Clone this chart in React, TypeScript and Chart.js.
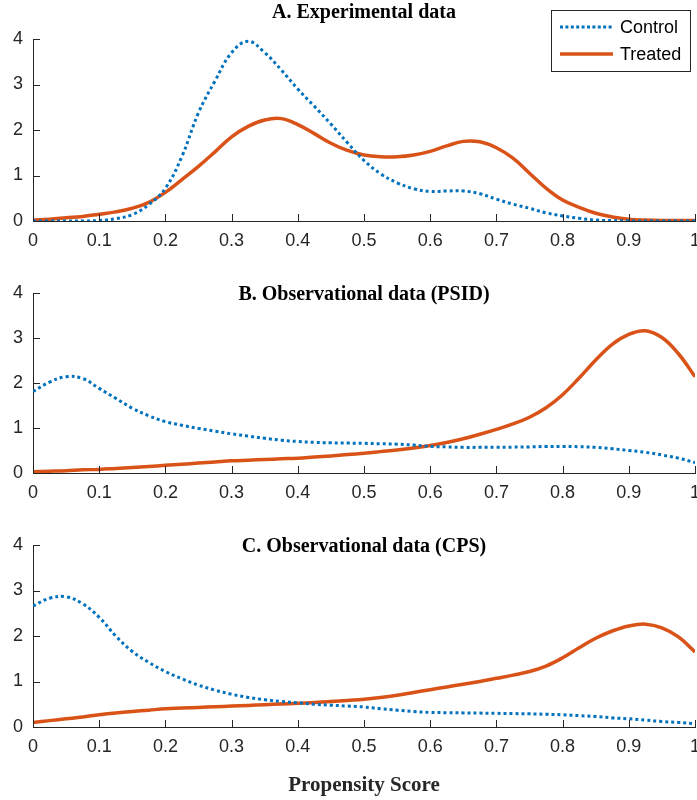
import React, { useEffect, useRef } from "react";
import { Chart, registerables } from "chart.js";

Chart.register(...registerables);

// ---------- data ----------
const xTicks = [0, 0.1, 0.2, 0.3, 0.4, 0.5, 0.6, 0.7, 0.8, 0.9, 1];
const xTickLabels = ["0", "0.1", "0.2", "0.3", "0.4", "0.5", "0.6", "0.7", "0.8", "0.9", "1"];
const yTicks = [0, 1, 2, 3, 4];
const yTickLabels = ["0", "1", "2", "3", "4"];
const seriesNames = ["Control", "Treated"];
const panelTitles = [
  "A. Experimental data",
  "B. Observational data (PSID)",
  "C. Observational data (CPS)",
];
const axisTitle = "Propensity Score";

// shared propensity-score grid (all panels)
const scoreGrid = [0, 0.025, 0.05, 0.075, 0.1, 0.125, 0.15, 0.175, 0.2, 0.225, 0.25, 0.275, 0.3, 0.325, 0.35, 0.375, 0.4, 0.425, 0.45, 0.475, 0.5, 0.525, 0.55, 0.575, 0.6, 0.625, 0.65, 0.675, 0.7, 0.725, 0.75, 0.775, 0.8, 0.825, 0.85, 0.875, 0.9, 0.925, 0.95, 0.975, 1];

const controlA = [0, 0, 0, 0, 0.01, 0.05, 0.14, 0.36, 0.72, 1.42, 2.38, 3.08, 3.7, 3.95, 3.7, 3.32, 2.9, 2.52, 2.13, 1.72, 1.33, 1.04, 0.84, 0.71, 0.65, 0.66, 0.66, 0.6, 0.48, 0.37, 0.28, 0.18, 0.11, 0.06, 0.02, 0.01, 0, 0, 0, 0, 0];
const treatedA = [0.02, 0.04, 0.07, 0.1, 0.15, 0.2, 0.28, 0.41, 0.63, 0.91, 1.2, 1.52, 1.85, 2.08, 2.22, 2.25, 2.12, 1.92, 1.71, 1.55, 1.45, 1.41, 1.41, 1.45, 1.53, 1.65, 1.75, 1.74, 1.61, 1.38, 1.05, 0.72, 0.46, 0.3, 0.17, 0.09, 0.04, 0.02, 0.01, 0.01, 0.01];

const controlB = [1.81, 2.02, 2.14, 2.1, 1.88, 1.66, 1.44, 1.27, 1.14, 1.06, 0.99, 0.93, 0.87, 0.82, 0.77, 0.73, 0.7, 0.68, 0.67, 0.665, 0.66, 0.65, 0.64, 0.62, 0.59, 0.58, 0.57, 0.57, 0.57, 0.575, 0.58, 0.59, 0.59, 0.585, 0.57, 0.54, 0.5, 0.46, 0.4, 0.33, 0.23];
const treatedB = [0.03, 0.04, 0.05, 0.07, 0.08, 0.1, 0.12, 0.145, 0.17, 0.195, 0.22, 0.245, 0.27, 0.285, 0.3, 0.315, 0.33, 0.355, 0.38, 0.41, 0.44, 0.475, 0.51, 0.555, 0.61, 0.68, 0.76, 0.86, 0.97, 1.09, 1.24, 1.45, 1.74, 2.11, 2.51, 2.86, 3.08, 3.16, 3.01, 2.65, 2.14];

const controlC = [2.66, 2.83, 2.86, 2.71, 2.41, 2.0, 1.66, 1.42, 1.22, 1.06, 0.92, 0.81, 0.72, 0.65, 0.6, 0.56, 0.53, 0.5, 0.48, 0.46, 0.44, 0.4, 0.37, 0.34, 0.32, 0.315, 0.31, 0.305, 0.3, 0.295, 0.29, 0.28, 0.27, 0.25, 0.23, 0.2, 0.18, 0.15, 0.12, 0.1, 0.07];
const treatedC = [0.1, 0.14, 0.18, 0.22, 0.27, 0.31, 0.34, 0.37, 0.4, 0.415, 0.43, 0.445, 0.46, 0.475, 0.49, 0.505, 0.52, 0.54, 0.56, 0.585, 0.61, 0.65, 0.7, 0.76, 0.82, 0.88, 0.94, 1.0, 1.07, 1.14, 1.22, 1.34, 1.52, 1.74, 1.95, 2.11, 2.22, 2.26, 2.18, 1.98, 1.65];

// ---------- styles ----------
const BLUE = "#0072BD";
const ORANGE = "#D95319";
const AXIS = "#262626";
const SANS = '"Liberation Sans", Arial, Helvetica, sans-serif';
const SERIF = '"Liberation Serif", "Times New Roman", serif';
const WIDTH = 697;

type PanelProps = {
  top: number;
  height: number;
  padTop: number;
  padBottom: number;
  grid: number[];
  control: number[];
  treated: number[];
  title: string;
  titleDy: number;
  showLegend?: boolean;
  showAxisTitle?: boolean;
};

function Panel(p: PanelProps) {
  const ref = useRef<HTMLCanvasElement | null>(null);

  useEffect(() => {
    if (!ref.current) return;

    const decor = {
      id: "decor",
      afterDraw(chart: any) {
        const ctx = chart.ctx as CanvasRenderingContext2D;
        const { left, right, top, bottom } = chart.chartArea;
        const xs = chart.scales.x;
        const ys = chart.scales.y;
        ctx.save();
        // inward tick marks
        ctx.strokeStyle = AXIS;
        ctx.lineWidth = 1;
        xs.ticks.forEach((t: any) => {
          const px = Math.round(xs.getPixelForValue(t.value)) + 0.5;
          ctx.beginPath();
          ctx.moveTo(px, bottom);
          ctx.lineTo(px, bottom - 7);
          ctx.stroke();
        });
        ys.ticks.forEach((t: any) => {
          const py = Math.round(ys.getPixelForValue(t.value)) + 0.5;
          ctx.beginPath();
          ctx.moveTo(left, py);
          ctx.lineTo(left + 7, py);
          ctx.stroke();
        });
        // panel title
        ctx.fillStyle = "#000";
        ctx.font = `bold 20px ${SERIF}`;
        ctx.textAlign = "center";
        ctx.textBaseline = "alphabetic";
        ctx.fillText(p.title, (left + right) / 2, top + p.titleDy);
        // axis title
        if (p.showAxisTitle) {
          ctx.fillStyle = AXIS;
          ctx.font = `bold 21px ${SERIF}`;
          ctx.fillText(axisTitle, (left + right) / 2, bottom + 64);
        }
        // legend
        if (p.showLegend) {
          const bx0 = right - 144;
          const bx1 = right - 5;
          const by0 = top - 29;
          const by1 = top + 32;
          ctx.fillStyle = "#fff";
          ctx.fillRect(bx0, by0, bx1 - bx0, by1 - by0);
          ctx.strokeStyle = AXIS;
          ctx.lineWidth = 1;
          ctx.strokeRect(Math.round(bx0) + 0.5, Math.round(by0) + 0.5, bx1 - bx0, by1 - by0);
          const rows = [top - 12, top + 15];
          chart.data.datasets.forEach((ds: any, i: number) => {
            const y = rows[i];
            ctx.beginPath();
            ctx.strokeStyle = ds.borderColor;
            ctx.lineWidth = ds.borderWidth;
            ctx.setLineDash(ds.borderDash ? [3, 2.4] : []);
            ctx.moveTo(right - 135, y);
            ctx.lineTo(right - 82, y);
            ctx.stroke();
            ctx.setLineDash([]);
            ctx.fillStyle = "#000";
            ctx.font = `18px ${SANS}`;
            ctx.textAlign = "left";
            ctx.textBaseline = "middle";
            ctx.fillText(ds.label, right - 75, y + 1);
          });
        }
        ctx.restore();
      },
    };

    const chart = new Chart(ref.current, {
      type: "line",
      data: {
        datasets: [
          {
            label: seriesNames[0],
            data: p.grid.map((x, i) => ({ x, y: p.control[i] })),
            borderColor: BLUE,
            borderWidth: 3,
            borderDash: [3, 3],
            borderCapStyle: "butt",
            pointRadius: 0,
            fill: false,
            tension: 0.4,
          },
          {
            label: seriesNames[1],
            data: p.grid.map((x, i) => ({ x, y: p.treated[i] })),
            borderColor: ORANGE,
            borderWidth: 3.5,
            pointRadius: 0,
            fill: false,
            tension: 0.4,
          },
        ],
      },
      options: {
        animation: false,
        responsive: false,
        maintainAspectRatio: false,
        events: [],
        layout: { padding: { top: p.padTop, bottom: p.padBottom, left: 0, right: 2 } },
        plugins: {
          legend: { display: false },
          title: { display: false },
          tooltip: { enabled: false },
        },
        scales: {
          x: {
            type: "linear",
            min: 0,
            max: 1,
            grid: { display: false, drawTicks: false },
            border: { display: true, color: AXIS, width: 1 },
            afterBuildTicks: (s: any) => {
              s.ticks = xTicks.map((v) => ({ value: v }));
            },
            ticks: {
              autoSkip: false,
              maxRotation: 0,
              color: AXIS,
              padding: 9,
              font: { family: SANS, size: 18 },
              callback: (_v: any, i: number) => xTickLabels[i],
            },
            afterFit: (s: any) => {
              s.height = 30;
              s.paddingLeft = 0;
              s.paddingRight = 0;
            },
          },
          y: {
            type: "linear",
            min: 0,
            max: 4,
            grid: { display: false, drawTicks: false },
            border: { display: true, color: AXIS, width: 1 },
            afterBuildTicks: (s: any) => {
              s.ticks = yTicks.map((v) => ({ value: v }));
            },
            ticks: {
              autoSkip: false,
              color: AXIS,
              padding: 10,
              font: { family: SANS, size: 18 },
              callback: (_v: any, i: number) => yTickLabels[i],
            },
            afterFit: (s: any) => {
              s.width = 33;
              s.paddingTop = 0;
              s.paddingBottom = 0;
            },
          },
        },
      } as any,
      plugins: [decor],
    });

    return () => chart.destroy();
  }, []);

  return (
    <canvas
      ref={ref}
      width={WIDTH}
      height={p.height}
      style={{ position: "absolute", left: 0, top: p.top, width: WIDTH, height: p.height, display: "block" }}
    />
  );
}

export default function App() {
  return (
    <div
      style={{
        position: "absolute",
        left: 0,
        top: 0,
        width: WIDTH,
        height: 800,
        overflow: "hidden",
        background: "#fff",
      }}
    >
      <Panel top={0} height={260} padTop={39} padBottom={9} grid={scoreGrid} control={controlA} treated={treatedA} title={panelTitles[0]} titleDy={-21} showLegend />
      <Panel top={260} height={255} padTop={33} padBottom={12} grid={scoreGrid} control={controlB} treated={treatedB} title={panelTitles[1]} titleDy={7} />
      <Panel top={515} height={285} padTop={30} padBottom={43} grid={scoreGrid} control={controlC} treated={treatedC} title={panelTitles[2]} titleDy={7} showAxisTitle />
    </div>
  );
}
